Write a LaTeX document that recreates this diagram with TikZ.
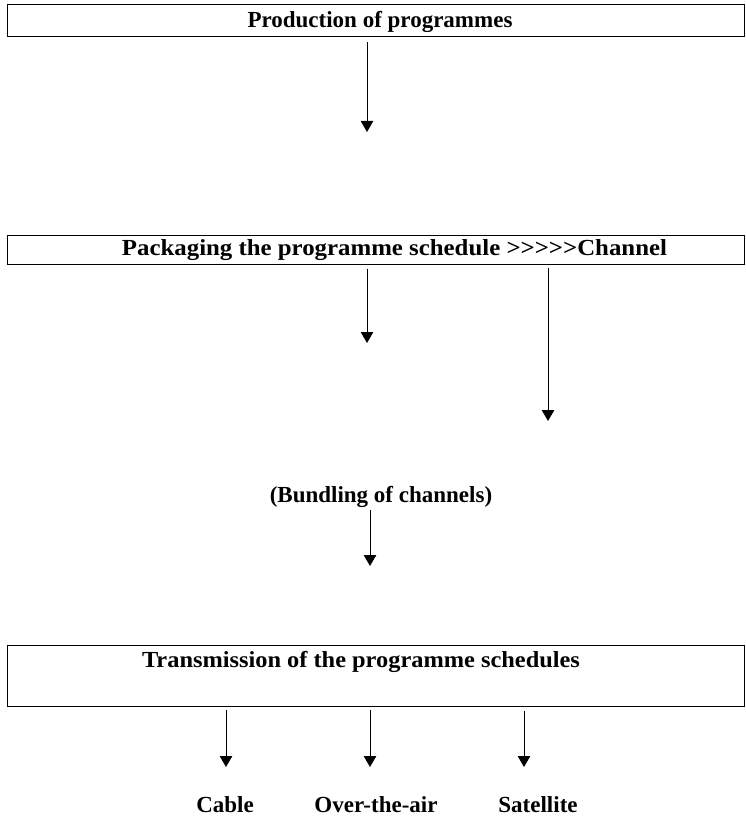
\documentclass[tikz,border=0pt]{standalone}
\usepackage{fontspec}
\setmainfont{Liberation Serif}
\usetikzlibrary{arrows.meta}
\begin{document}
\begin{tikzpicture}[x=1pt,y=1pt,
  box/.style={draw=black, line width=1pt, rectangle, minimum width=737pt, inner sep=0pt},
  lbl/.style={font=\fontsize{23}{26}\selectfont\bfseries, inner sep=0pt, anchor=center},
  arr/.style={draw=black, line width=0.9pt, -{Triangle[length=11pt,width=12.5pt]}}]
\useasboundingbox (0,0) rectangle (745,-818);
% boxes
\node[box, minimum height=32pt] (prod) at (375.5,-21) {};
\node[box, minimum height=29pt] (pack) at (375.5,-249.5) {};
\node[box, minimum height=61pt] (trans) at (375.5,-675.5) {};
% texts
\node[lbl] (tprod) at (380,-22) {Production of programmes};
\node[lbl, xscale=1.08] (tpack) at (394.5,-250) {Packaging the programme schedule >{}>{}>{}>{}>Channel};
\node[lbl] (bund) at (381,-497) {(Bundling of channels)};
\node[lbl, xscale=1.06] (ttrans) at (361,-662) {Transmission of the programme schedules};
\node[lbl] (cable) at (225,-805) {Cable};
\node[lbl] (air) at (376,-805) {Over-the-air};
\node[lbl] (sat) at (538,-805) {Satellite};
% arrow end points
\coordinate (e1) at (367,-132);
\coordinate (e2) at (367,-343);
\coordinate (e3) at (548,-421);
\coordinate (e4) at (370,-566);
\coordinate (e5) at (226,-767);
\coordinate (e6) at (370,-767);
\coordinate (e7) at (524,-767);
% arrows
\draw[arr] ([yshift=-5pt]prod.south -| e1) -- (e1);
\draw[arr] ([yshift=-4pt]pack.south -| e2) -- (e2);
\draw[arr] ([yshift=-3pt]pack.south -| e3) -- (e3);
\draw[arr] ([yshift=-13pt]bund.center -| e4) -- (e4);
\draw[arr] ([yshift=-3pt]trans.south -| e5) -- (e5);
\draw[arr] ([yshift=-3pt]trans.south -| e6) -- (e6);
\draw[arr] ([yshift=-4pt]trans.south -| e7) -- (e7);
\end{tikzpicture}
\end{document}
